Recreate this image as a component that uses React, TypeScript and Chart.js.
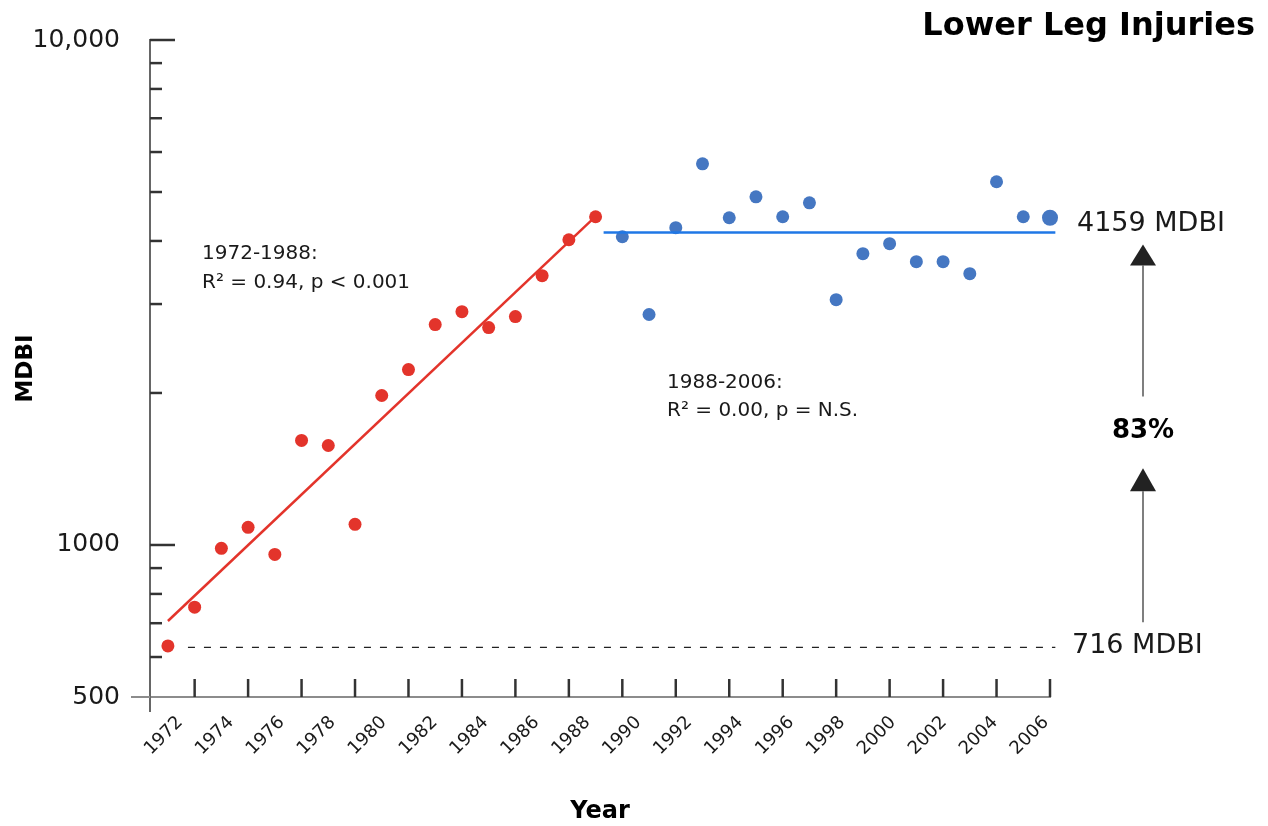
import React, { useEffect, useRef } from 'react';
import { Chart, registerables } from 'chart.js';

Chart.register(...registerables);

const FONT = '"DejaVu Sans", "Liberation Sans", sans-serif';

// ---- data ----
const redYears = [1972, 1973, 1974, 1975, 1976, 1977, 1978, 1979, 1980, 1981, 1982, 1983, 1984, 1985, 1986, 1987, 1988];
const redValues = [631, 753, 985, 1084, 958, 1611, 1574, 1099, 1977, 2225, 2732, 2898, 2695, 2833, 3415, 4022, 4467];
const blueYears = [1989, 1990, 1991, 1992, 1993, 1994, 1995, 1996, 1997, 1998, 1999, 2000, 2001, 2002, 2003, 2004, 2005];
const blueValues = [4077, 2860, 4250, 5686, 4446, 4892, 4467, 4760, 3061, 3774, 3950, 3640, 3640, 3446, 5239, 4467, 4446];

const redTrendYears = [1972, 1988];
const redTrendValues = [707, 4474];
const blueTrendYears = [1988.3, 2005.2];
const blueTrendValues = [4159, 4159];
const baselineYears = [1972.75, 2005.2];
const baselineValues = [627, 627];

const xLabelYears = [1972, 1974, 1976, 1978, 1980, 1982, 1984, 1986, 1988, 1990, 1992, 1994, 1996, 1998, 2000, 2002, 2004, 2006];
const xTickYears = [1973, 1975, 1977, 1979, 1981, 1983, 1985, 1987, 1989, 1991, 1993, 1995, 1997, 1999, 2001, 2003, 2005];
const yLabelValues = [500, 1000, 10000];
const yLabelTexts = ['500', '1000', '10,000'];
const yMajorTicks = [1000, 10000];
const yMinorTicks = [600, 700, 800, 900, 2000, 3000, 4000, 5000, 6000, 7000, 8000, 9000];

const titleText = 'Lower Leg Injuries';
const yAxisTitle = 'MDBI';
const xAxisTitle = 'Year';
const earlyFitText = ['1972-1988:', 'R\u00B2 = 0.94, p < 0.001'];
const lateFitText = ['1988-2006:', 'R\u00B2 = 0.00, p = N.S.'];
const plateauLabel = '4159 MDBI';
const baselineLabel = '716 MDBI';
const changeLabel = '83%';

const RED = '#e3342b';
const BLUE_DOT = '#4577c2';
const BLUE_LINE = '#1f77e6';

const toPoints = (xs: number[], ys: number[]) => xs.map((x, i) => ({ x, y: ys[i] }));

const overlayPlugin = {
  id: 'overlay',
  afterDraw(chart: any) {
    const ctx: CanvasRenderingContext2D = chart.ctx;
    const area = chart.chartArea;
    const xd = chart.scales.xd;
    const y = chart.scales.y;
    ctx.save();

    // axis overhangs
    ctx.lineWidth = 2;
    ctx.strokeStyle = '#666';
    ctx.beginPath();
    ctx.moveTo(area.left, area.bottom);
    ctx.lineTo(area.left, area.bottom + 15);
    ctx.stroke();
    ctx.strokeStyle = '#8c8c8c';
    ctx.beginPath();
    ctx.moveTo(area.left - 19, area.bottom);
    ctx.lineTo(area.left, area.bottom);
    ctx.stroke();

    // inward y ticks
    ctx.strokeStyle = '#333';
    ctx.lineWidth = 2.5;
    yMinorTicks.forEach((v) => {
      const py = y.getPixelForValue(v);
      ctx.beginPath();
      ctx.moveTo(area.left, py);
      ctx.lineTo(area.left + 12, py);
      ctx.stroke();
    });
    yMajorTicks.forEach((v) => {
      const py = y.getPixelForValue(v);
      ctx.beginPath();
      ctx.moveTo(area.left, py);
      ctx.lineTo(area.left + 25, py);
      ctx.stroke();
    });

    // inward x ticks
    xTickYears.forEach((yr) => {
      const px = xd.getPixelForValue(yr);
      ctx.beginPath();
      ctx.moveTo(px, area.bottom);
      ctx.lineTo(px, area.bottom - 18);
      ctx.stroke();
    });

    // fit annotations
    ctx.fillStyle = '#1a1a1a';
    ctx.textBaseline = 'middle';
    ctx.textAlign = 'left';
    ctx.font = `20px ${FONT}`;
    ctx.fillText(earlyFitText[0], area.left + 52, 254);
    ctx.fillText(earlyFitText[1], area.left + 52, 283);
    ctx.fillText(lateFitText[0], area.left + 517, 383);
    ctx.fillText(lateFitText[1], area.left + 517, 411);

    // level labels
    const pPlateau = y.getPixelForValue(blueTrendValues[0]);
    const pBase = y.getPixelForValue(baselineValues[0]);
    ctx.font = `27px ${FONT}`;
    ctx.fillText(plateauLabel, area.right + 27, pPlateau - 8);
    ctx.fillText(baselineLabel, area.right + 22, pBase - 1);

    // arrows
    const ax = area.right + 93;
    const arrow = (yFrom: number, yTo: number, tip: number) => {
      ctx.strokeStyle = '#555';
      ctx.lineWidth = 1.5;
      ctx.beginPath();
      ctx.moveTo(ax, yFrom);
      ctx.lineTo(ax, yTo);
      ctx.stroke();
      ctx.fillStyle = '#222';
      ctx.beginPath();
      ctx.moveTo(ax, tip);
      ctx.lineTo(ax - 13, yTo);
      ctx.lineTo(ax + 13, yTo);
      ctx.closePath();
      ctx.fill();
    };
    arrow(pBase - 25, pBase - 156, pBase - 179);
    arrow(pPlateau + 164, pPlateau + 33, pPlateau + 12);

    ctx.fillStyle = '#000';
    ctx.textAlign = 'center';
    ctx.font = `bold 26px ${FONT}`;
    ctx.fillText(changeLabel, ax, pBase - 216);

    ctx.restore();
  },
};

export default function App() {
  const ref = useRef<HTMLCanvasElement>(null);

  useEffect(() => {
    const canvas = ref.current;
    if (!canvas) return;
    const chart = new Chart(canvas, {
      type: 'scatter',
      data: {
        datasets: [
          {
            label: 'Baseline',
            data: toPoints(baselineYears, baselineValues),
            showLine: true,
            borderColor: '#222',
            borderWidth: 1.2,
            borderDash: [7, 9],
            pointRadius: 0,
            xAxisID: 'xd',
            yAxisID: 'y',
            clip: false,
          },
          {
            label: '1988-2006 fit',
            data: toPoints(blueTrendYears, blueTrendValues),
            showLine: true,
            borderColor: BLUE_LINE,
            borderWidth: 2.5,
            pointRadius: 0,
            xAxisID: 'xd',
            yAxisID: 'y',
            clip: false,
          },
          {
            label: '1972-1988 fit',
            data: toPoints(redTrendYears, redTrendValues),
            showLine: true,
            borderColor: RED,
            borderWidth: 2.5,
            pointRadius: 0,
            xAxisID: 'xd',
            yAxisID: 'y',
            clip: false,
          },
          {
            label: '1972-1988',
            data: toPoints(redYears, redValues),
            showLine: false,
            backgroundColor: RED,
            borderColor: RED,
            borderWidth: 0,
            pointRadius: 6.5,
            xAxisID: 'xd',
            yAxisID: 'y',
            clip: false,
          },
          {
            label: '1988-2006',
            data: toPoints(blueYears, blueValues),
            showLine: false,
            backgroundColor: BLUE_DOT,
            borderColor: BLUE_DOT,
            borderWidth: 0,
            pointRadius: blueYears.map((_, i) => (i === blueYears.length - 1 ? 8 : 6.5)),
            xAxisID: 'xd',
            yAxisID: 'y',
            clip: false,
          },
        ],
      },
      options: {
        responsive: false,
        animation: false,
        devicePixelRatio: 1,
        layout: { padding: { left: 0, right: 13, top: 0, bottom: 0 } },
        plugins: {
          legend: { display: false },
          tooltip: { enabled: false },
          title: {
            display: true,
            text: titleText,
            align: 'end',
            color: '#000',
            font: { family: FONT, size: 32, weight: 'bold', lineHeight: '26px' },
            padding: { top: 14, bottom: 0 },
          },
        },
        scales: {
          xd: {
            type: 'linear',
            display: false,
            min: 1971.33,
            max: 2005,
          },
          x: {
            type: 'linear',
            position: 'bottom',
            min: 1970.82,
            max: 2006.16,
            grid: { display: false, drawTicks: false },
            border: { display: true, color: '#8c8c8c', width: 2 },
            afterBuildTicks: (s: any) => {
              s.ticks = xLabelYears.map((v) => ({ value: v }));
            },
            afterFit: (s: any) => {
              s.height = 129;
              s.paddingLeft = 0;
              s.paddingRight = 0;
            },
            ticks: {
              autoSkip: false,
              minRotation: 45,
              maxRotation: 45,
              padding: 15,
              color: '#1a1a1a',
              font: { family: FONT, size: 18 },
              callback: (v: any) => String(v),
            },
            title: {
              display: true,
              text: xAxisTitle,
              color: '#000',
              font: { family: FONT, size: 24, weight: 'bold' },
              padding: { top: 0, bottom: 0 },
            },
          },
          y: {
            type: 'logarithmic',
            position: 'left',
            min: 500,
            max: 10000,
            grid: { display: false, drawTicks: false },
            border: { display: true, color: '#666', width: 2 },
            afterBuildTicks: (s: any) => {
              s.ticks = yLabelValues.map((v) => ({ value: v }));
            },
            afterFit: (s: any) => {
              s.width = 150;
              s.paddingTop = 0;
              s.paddingBottom = 0;
            },
            ticks: {
              autoSkip: false,
              padding: 30,
              color: '#1a1a1a',
              font: { family: FONT, size: 25 },
              callback: (v: any) => {
                const i = yLabelValues.indexOf(Number(v));
                return i >= 0 ? yLabelTexts[i] : '';
              },
            },
            title: {
              display: true,
              text: yAxisTitle,
              color: '#000',
              font: { family: FONT, size: 23, weight: 'bold' },
              padding: { top: 12, bottom: 0 },
            },
          },
          yR: {
            type: 'linear',
            position: 'right',
            grid: { display: false, drawTicks: false },
            border: { display: false },
            ticks: { display: false },
            afterFit: (s: any) => {
              s.width = 205;
              s.paddingTop = 0;
              s.paddingBottom = 0;
            },
          },
        },
      },
      plugins: [overlayPlugin],
    } as any);
    return () => chart.destroy();
  }, []);

  return (
    <div style={{ position: 'absolute', left: 0, top: 0, width: 1268, height: 826, background: '#fff' }}>
      <canvas ref={ref} width={1268} height={826} style={{ display: 'block' }} />
    </div>
  );
}
